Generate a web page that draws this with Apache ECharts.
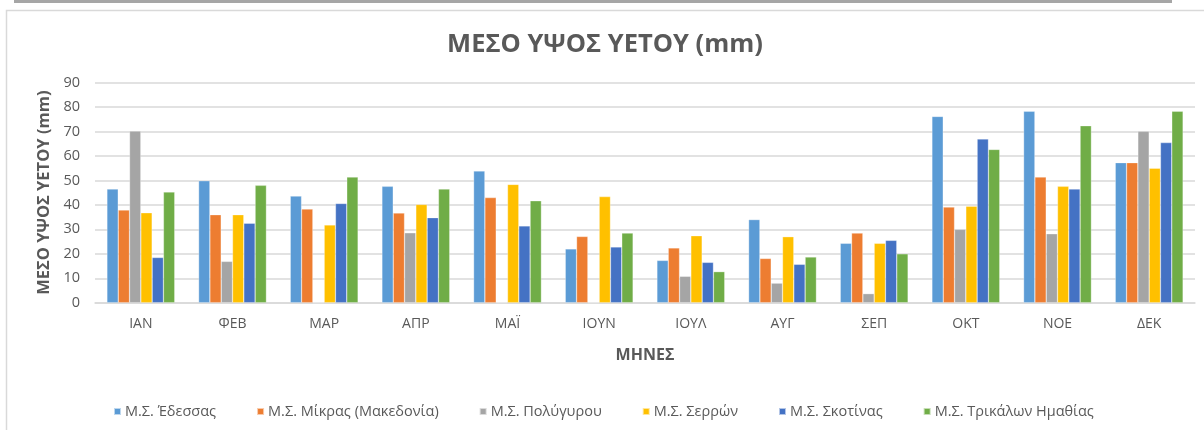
<!DOCTYPE html>
<html>
<head>
<meta charset="utf-8">
<script src="https://cdn.jsdelivr.net/npm/echarts@6/dist/echarts.min.js"></script>
<style>
  html, body { margin: 0; padding: 0; background: #fff; }
  #chart { width: 1204px; height: 430px; }
</style>
</head>
<body>
<div id="chart"></div>
<script>
// μήνες
var months = ['ΙΑΝ', 'ΦΕΒ', 'ΜΑΡ', 'ΑΠΡ', 'ΜΑΪ', 'ΙΟΥΝ', 'ΙΟΥΛ', 'ΑΥΓ', 'ΣΕΠ', 'ΟΚΤ', 'ΝΟΕ', 'ΔΕΚ']

var edessa   = [46.5, 49.9, 43.6, 47.6, 53.9, 22.0, 17.3, 34.0, 24.3, 76.2, 78.3, 57.3]
var mikra    = [37.9, 36.0, 38.3, 36.7, 43.0, 27.1, 22.4, 18.1, 28.5, 39.1, 51.4, 57.3]
var polygyro = [70.2, 16.9, 0, 28.6, 0, 0, 10.8, 8.0, 3.7, 30.0, 28.2, 70.1]
var serres   = [36.8, 36.0, 31.8, 40.2, 48.4, 43.4, 27.4, 27.0, 24.3, 39.5, 47.6, 55.0]
var skotina  = [18.5, 32.5, 40.6, 34.8, 31.4, 22.8, 16.5, 15.7, 25.5, 67.0, 46.5, 65.5]
var trikala  = [45.3, 48.0, 51.4, 46.5, 41.7, 28.5, 12.7, 18.7, 20.0, 62.7, 72.4, 78.3]

var stationNames = ['Μ.Σ. Έδεσσας', 'Μ.Σ. Μίκρας (Μακεδονία)', 'Μ.Σ. Πολύγυρου', 'Μ.Σ. Σερρών', 'Μ.Σ. Σκοτίνας', 'Μ.Σ. Τρικάλων Ημαθίας']
var stationData = [edessa, mikra, polygyro, serres, skotina, trikala]
var colors = ['#5B9BD5', '#ED7D31', '#A5A5A5', '#FFC000', '#4472C4', '#70AD47']

var fontName = 'Open Sans'
var textColor = '#595959'

var series = []
stationNames.forEach(function (name, i) {
  series.push({
    name: name,
    type: 'bar',
    data: stationData[i],
    barGap: '0%',
    barCategoryGap: '26%',
    itemStyle: { color: colors[i], borderColor: 'rgba(255,255,255,0.6)', borderWidth: 0.5 }
  })
})

var myChart = echarts.init(document.getElementById('chart'))
var option = {
  backgroundColor: '#fff',
  animation: false,
  color: colors,
  title: {
    text: 'ΜΕΣΟ ΥΨΟΣ ΥΕΤΟΥ (mm)',
    left: 600,
    top: 27,
    textAlign: 'center',
    textStyle: { fontFamily: fontName, fontSize: 25.5, fontWeight: 'bold', color: textColor }
  },
  graphic: [
    { type: 'rect', shape: { x: 14, y: 0, width: 1158, height: 3 }, style: { fill: '#a6a6a6' } },
    { type: 'polyline', shape: { points: [[6.5, 430], [6.5, 10.5], [1204, 10.5]] }, style: { stroke: '#d9d9d9', lineWidth: 1.5, fill: null } }
  ],
  legend: {
    data: stationNames,
    left: 108,
    top: 399,
    width: 1090,
    itemWidth: 7,
    itemHeight: 7,
    itemGap: 40,
    icon: 'rect',
    textStyle: { fontFamily: fontName, fontSize: 14.5, color: textColor, padding: [0, 0, 0, -1] }
  },
  grid: {
    left: 95,
    right: 9,
    top: 82.7,
    bottom: 127.3,
    containLabel: false
  },
  xAxis: {
    type: 'category',
    data: months,
    name: 'ΜΗΝΕΣ',
    nameLocation: 'middle',
    nameGap: 45,
    nameTextStyle: { fontFamily: fontName, fontSize: 16, fontWeight: 'bold', color: textColor },
    axisLine: { lineStyle: { color: '#d9d9d9', width: 1.5 } },
    axisTick: { show: false },
    axisLabel: { fontFamily: fontName, fontSize: 14, color: textColor, margin: 14 }
  },
  yAxis: {
    type: 'value',
    min: 0,
    max: 90,
    interval: 10,
    name: 'ΜΕΣΟ ΥΨΟΣ ΥΕΤΟΥ (mm)',
    nameLocation: 'middle',
    nameRotate: 90,
    nameGap: 41,
    nameTextStyle: { fontFamily: fontName, fontSize: 16.5, fontWeight: 'bold', color: textColor },
    axisLine: { show: false },
    axisTick: { show: false },
    splitLine: { lineStyle: { color: '#d9d9d9', width: 1.5 } },
    axisLabel: { fontFamily: fontName, fontSize: 14.5, color: textColor, margin: 15 }
  },
  series: series
}
myChart.setOption(option)
window.addEventListener('resize', function () {
  myChart.resize()
})
</script>
</body>
</html>
